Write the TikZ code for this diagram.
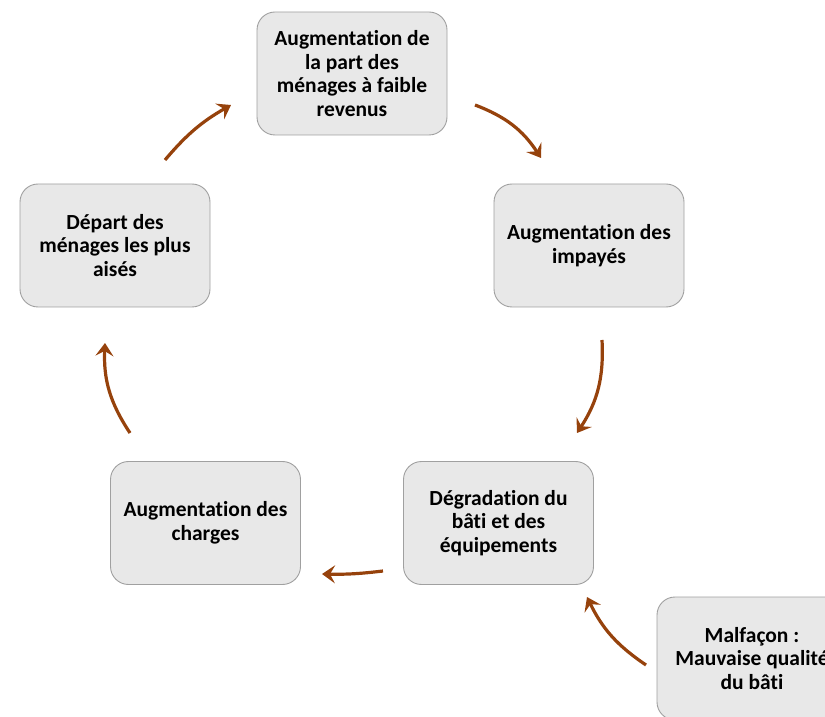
\documentclass[tikz,border=0pt]{standalone}
\usepackage{fontspec}
\setmainfont{Carlito}[Ligatures={NoCommon}]
\usetikzlibrary{arrows.meta}
\definecolor{boxfill}{RGB}{232,232,232}
\definecolor{boxline}{RGB}{160,160,160}
\definecolor{arrowbrown}{RGB}{150,66,12}
\begin{document}
\begin{tikzpicture}[x=1pt, y=1pt,
    cyclebox/.style={draw=boxline, line width=0.9pt, fill=boxfill, rounded corners=18pt,
        minimum width=190pt, minimum height=123pt, align=center,
        font=\fontsize{21.5}{23.5}\selectfont\bfseries},
    cyclearrow/.style={draw=arrowbrown, line width=3.2pt,
        -{Stealth[length=13pt, width=18pt, inset=5pt]}}]
            \useasboundingbox (0,0) rectangle (825,716);
            \clip (0,0) rectangle (825,716);

            \node[cyclebox] (hausse) at (352,642.5) {Augmentation de\\la part des\\ménages à faible\\revenus};
            \node[cyclebox] (impayes) at (589,470.5) {Augmentation des\\impayés};
            \node[cyclebox] (degradation) at (498.5,193) {Dégradation du\\bâti et des\\équipements};
            \node[cyclebox] (charges) at (205.5,193) {Augmentation des\\charges};
            \node[cyclebox] (depart) at (115,470.5) {Départ des\\ménages les plus\\aisés};
            \node[cyclebox] (malfacon) at (752,57.5) {Malfaçon :\\Mauvaise qualité\\du bâti};

            % points de depart et d'arrivee des fleches
            \coordinate (hausse-out) at (475,611);
            \coordinate (impayes-in) at (541,558);
            \coordinate (impayes-out) at (602,376);
            \coordinate (degradation-in) at (577,283);
            \coordinate (degradation-out) at (383,145);
            \coordinate (charges-in) at (322,142);
            \coordinate (charges-out) at (130,283);
            \coordinate (depart-in) at (105,373);
            \coordinate (depart-out) at (165,556);
            \coordinate (hausse-in) at (231,611);
            \coordinate (malfacon-out) at (646,51);
            \coordinate (degradation-in2) at (587,119);

            \draw[cyclearrow] (hausse-out) to[bend left=18] (impayes-in);
            \draw[cyclearrow] (impayes-out) to[bend left=18] (degradation-in);
            \draw[cyclearrow] (degradation-out) to[bend left=4] (charges-in);
            \draw[cyclearrow] (charges-out) to[bend left=18] (depart-in);
            \draw[cyclearrow] (depart-out) to[bend left=10] (hausse-in);
            \draw[cyclearrow] (malfacon-out) to[bend left=15] (degradation-in2);
\end{tikzpicture}
\end{document}
